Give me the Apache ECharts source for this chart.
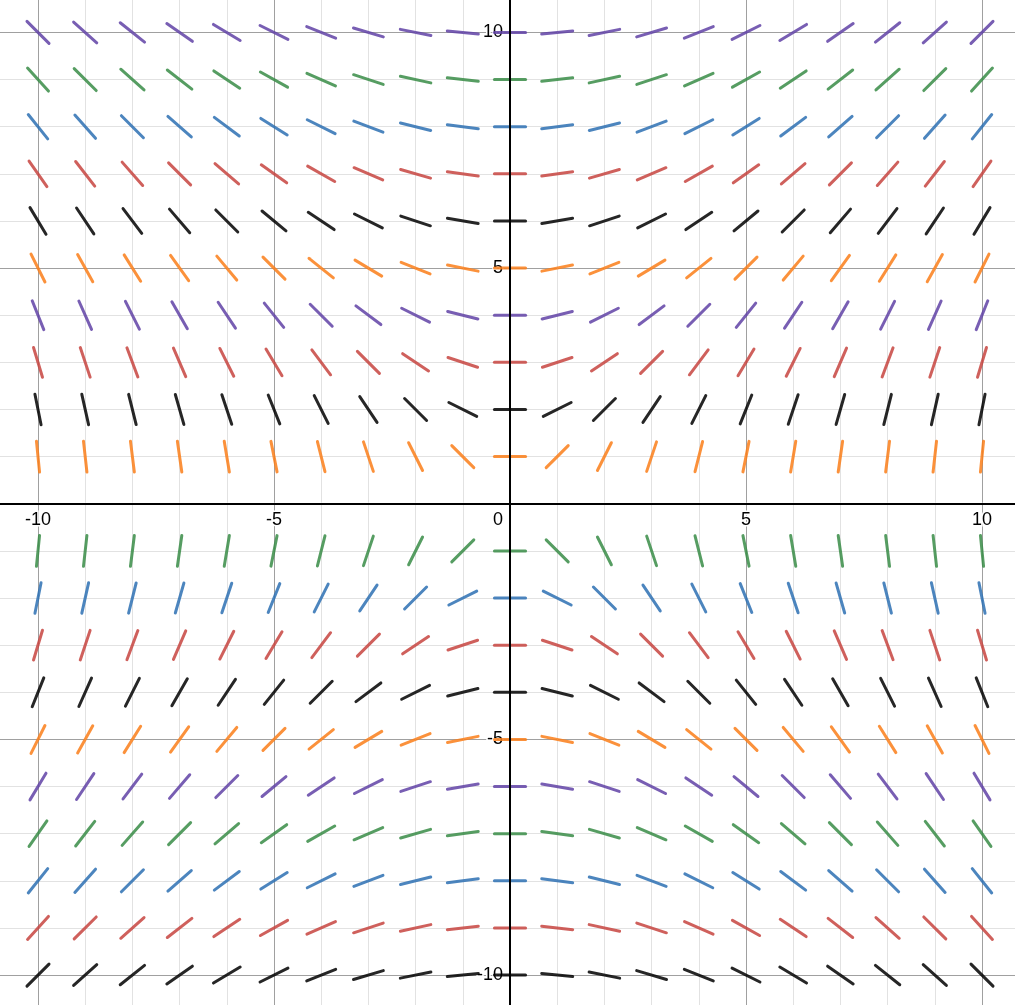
<!DOCTYPE html>
<html>
<head>
<meta charset="utf-8">
<title>Slope field dy/dx = x/y</title>
<script src="https://cdn.jsdelivr.net/npm/echarts@6/dist/echarts.min.js"></script>
<style>
  html, body { margin: 0; padding: 0; background: #fff; }
  #chart { width: 1015px; height: 1005px; }
</style>
</head>
<body>
<div id="chart"></div>
<script>
// Sample columns (x) and rows (y) of the slope field
const xValues = [-10, -9, -8, -7, -6, -5, -4, -3, -2, -1, 0, 1, 2, 3, 4, 5, 6, 7, 8, 9, 10];
const yRows = [10, 9, 8, 7, 6, 5, 4, 3, 2, 1, -1, -2, -3, -4, -5, -6, -7, -8, -9, -10];

// Colour of each row of segments, top to bottom
const rowColors = [
  '#6042a6', '#388c46', '#2d70b3', '#c74440', '#000000',
  '#fa7e19', '#6042a6', '#c74440', '#000000', '#fa7e19',
  '#388c46', '#2d70b3', '#c74440', '#000000', '#fa7e19',
  '#6042a6', '#388c46', '#2d70b3', '#c74440', '#000000'
];

// Slope of each segment, one row per entry of yRows, one column per entry of xValues
const slopes = [
  [-1, -0.9, -0.8, -0.7, -0.6, -0.5, -0.4, -0.3, -0.2, -0.1, 0, 0.1, 0.2, 0.3, 0.4, 0.5, 0.6, 0.7, 0.8, 0.9, 1],
  [-1.11, -1, -0.89, -0.78, -0.67, -0.56, -0.44, -0.33, -0.22, -0.11, 0, 0.11, 0.22, 0.33, 0.44, 0.56, 0.67, 0.78, 0.89, 1, 1.11],
  [-1.25, -1.13, -1, -0.88, -0.75, -0.63, -0.5, -0.38, -0.25, -0.13, 0, 0.13, 0.25, 0.38, 0.5, 0.63, 0.75, 0.88, 1, 1.13, 1.25],
  [-1.43, -1.29, -1.14, -1, -0.86, -0.71, -0.57, -0.43, -0.29, -0.14, 0, 0.14, 0.29, 0.43, 0.57, 0.71, 0.86, 1, 1.14, 1.29, 1.43],
  [-1.67, -1.5, -1.33, -1.17, -1, -0.83, -0.67, -0.5, -0.33, -0.17, 0, 0.17, 0.33, 0.5, 0.67, 0.83, 1, 1.17, 1.33, 1.5, 1.67],
  [-2, -1.8, -1.6, -1.4, -1.2, -1, -0.8, -0.6, -0.4, -0.2, 0, 0.2, 0.4, 0.6, 0.8, 1, 1.2, 1.4, 1.6, 1.8, 2],
  [-2.5, -2.25, -2, -1.75, -1.5, -1.25, -1, -0.75, -0.5, -0.25, 0, 0.25, 0.5, 0.75, 1, 1.25, 1.5, 1.75, 2, 2.25, 2.5],
  [-3.33, -3, -2.67, -2.33, -2, -1.67, -1.33, -1, -0.67, -0.33, 0, 0.33, 0.67, 1, 1.33, 1.67, 2, 2.33, 2.67, 3, 3.33],
  [-5, -4.5, -4, -3.5, -3, -2.5, -2, -1.5, -1, -0.5, 0, 0.5, 1, 1.5, 2, 2.5, 3, 3.5, 4, 4.5, 5],
  [-10, -9, -8, -7, -6, -5, -4, -3, -2, -1, 0, 1, 2, 3, 4, 5, 6, 7, 8, 9, 10],
  [10, 9, 8, 7, 6, 5, 4, 3, 2, 1, 0, -1, -2, -3, -4, -5, -6, -7, -8, -9, -10],
  [5, 4.5, 4, 3.5, 3, 2.5, 2, 1.5, 1, 0.5, 0, -0.5, -1, -1.5, -2, -2.5, -3, -3.5, -4, -4.5, -5],
  [3.33, 3, 2.67, 2.33, 2, 1.67, 1.33, 1, 0.67, 0.33, 0, -0.33, -0.67, -1, -1.33, -1.67, -2, -2.33, -2.67, -3, -3.33],
  [2.5, 2.25, 2, 1.75, 1.5, 1.25, 1, 0.75, 0.5, 0.25, 0, -0.25, -0.5, -0.75, -1, -1.25, -1.5, -1.75, -2, -2.25, -2.5],
  [2, 1.8, 1.6, 1.4, 1.2, 1, 0.8, 0.6, 0.4, 0.2, 0, -0.2, -0.4, -0.6, -0.8, -1, -1.2, -1.4, -1.6, -1.8, -2],
  [1.67, 1.5, 1.33, 1.17, 1, 0.83, 0.67, 0.5, 0.33, 0.17, 0, -0.17, -0.33, -0.5, -0.67, -0.83, -1, -1.17, -1.33, -1.5, -1.67],
  [1.43, 1.29, 1.14, 1, 0.86, 0.71, 0.57, 0.43, 0.29, 0.14, 0, -0.14, -0.29, -0.43, -0.57, -0.71, -0.86, -1, -1.14, -1.29, -1.43],
  [1.25, 1.13, 1, 0.88, 0.75, 0.63, 0.5, 0.38, 0.25, 0.13, 0, -0.13, -0.25, -0.38, -0.5, -0.63, -0.75, -0.88, -1, -1.13, -1.25],
  [1.11, 1, 0.89, 0.78, 0.67, 0.56, 0.44, 0.33, 0.22, 0.11, 0, -0.11, -0.22, -0.33, -0.44, -0.56, -0.67, -0.78, -0.89, -1, -1.11],
  [1, 0.9, 0.8, 0.7, 0.6, 0.5, 0.4, 0.3, 0.2, 0.1, 0, -0.1, -0.2, -0.3, -0.4, -0.5, -0.6, -0.7, -0.8, -0.9, -1]
];

// Tick labels shown on the axes
const xTickLabels = [-10, -5, 0, 5, 10];
const yTickLabels = [-10, -5, 5, 10];

// Half-length of every segment, in axis units
const HALF_SEGMENT = 0.33;

const segmentData = [];
yRows.forEach(function (y, i) {
  xValues.forEach(function (x, j) {
    segmentData.push([x, y, slopes[i][j], i]);
  });
});

// Plot frame: axes run from -11 to 11, frame slightly larger than the page
const AXIS_MIN = -11;
const AXIS_MAX = 11;
const GRID = { left: -9.2, top: -14.7, width: 1038.4, height: 1036.9 };
// distance from the frame's bottom / left edge to the zero line
const X_AXIS_SHIFT = GRID.height * (0 - AXIS_MIN) / (AXIS_MAX - AXIS_MIN);
const Y_AXIS_SHIFT = GRID.width * (0 - AXIS_MIN) / (AXIS_MAX - AXIS_MIN);

const LABEL_FONT = '"Liberation Sans", Arial, sans-serif';
const MINOR = '#e2e2e2';
const MAJOR = '#a0a0a0';

function baseAxis(extra) {
  return Object.assign({
    type: 'value',
    min: AXIS_MIN,
    max: AXIS_MAX,
    interval: 1,
    axisLine: { show: false, onZero: false },
    axisTick: { show: false },
    axisLabel: { show: false },
    splitLine: { show: false }
  }, extra || {});
}

// light unit grid with darker lines every 5 units (the first line is at -11)
function gridAxis(position) {
  return baseAxis({
    position: position,
    splitLine: {
      show: true,
      lineStyle: { color: [MINOR, MAJOR, MINOR, MINOR, MINOR], width: 1 }
    },
    z: 0
  });
}

// black axis line through the origin, drawn above the segments
function lineAxis(position, shift) {
  return baseAxis({
    position: position,
    offset: -shift,
    axisLine: { show: true, onZero: false, lineStyle: { color: '#000', width: 2 } },
    z: 5
  });
}

const labelStyle = {
  fontSize: 18,
  fontFamily: LABEL_FONT,
  color: '#000',
  textBorderColor: '#fff',
  textBorderWidth: 3
};

const chart = echarts.init(document.getElementById('chart'), null, { renderer: 'canvas' });

chart.setOption({
  animation: false,
  backgroundColor: '#fff',
  grid: Object.assign({ containLabel: false, outerBoundsMode: 'none' }, GRID),
  xAxis: [
    gridAxis('top'),
    // tick labels along y = 0, beneath the segments
    baseAxis({
      position: 'bottom',
      offset: -X_AXIS_SHIFT,
      z: 1,
      axisLabel: Object.assign({
        show: true,
        margin: 7,
        interval: 0,
        hideOverlap: false,
        formatter: function (v) {
          if (v === 0) return '{z|0}';
          return xTickLabels.indexOf(v) >= 0 ? String(v) : '';
        },
        rich: { z: Object.assign({ padding: [0, 24, 0, 0] }, labelStyle) }
      }, labelStyle)
    }),
    lineAxis('bottom', X_AXIS_SHIFT)
  ],
  yAxis: [
    gridAxis('right'),
    // tick labels along x = 0, beneath the segments
    baseAxis({
      position: 'left',
      offset: -Y_AXIS_SHIFT,
      z: 1,
      axisLabel: Object.assign({
        show: true,
        margin: 7,
        interval: 0,
        hideOverlap: false,
        formatter: function (v) {
          return yTickLabels.indexOf(v) >= 0 ? String(v) : '';
        }
      }, labelStyle)
    }),
    lineAxis('left', Y_AXIS_SHIFT)
  ],
  series: [{
    type: 'custom',
    xAxisIndex: 0,
    yAxisIndex: 0,
    z: 2,
    clip: false,
    data: segmentData,
    renderItem: function (params, api) {
      const x = api.value(0);
      const y = api.value(1);
      const m = api.value(2);
      const row = api.value(3);
      const theta = Math.atan(m);
      const dx = HALF_SEGMENT * Math.cos(theta);
      const dy = HALF_SEGMENT * Math.sin(theta);
      const p1 = api.coord([x - dx, y - dy]);
      const p2 = api.coord([x + dx, y + dy]);
      return {
        type: 'line',
        shape: { x1: p1[0], y1: p1[1], x2: p2[0], y2: p2[1] },
        style: {
          stroke: rowColors[row],
          lineWidth: 3,
          lineCap: 'round',
          opacity: 0.85
        }
      };
    }
  }]
});
</script>
</body>
</html>
